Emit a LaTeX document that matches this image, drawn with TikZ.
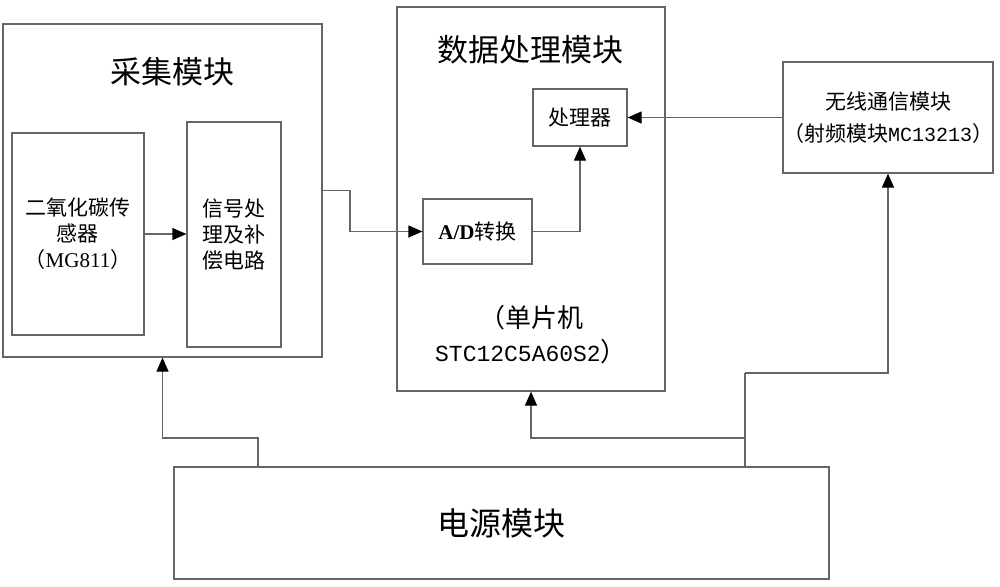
\documentclass[tikz,border=0pt]{standalone}
\usepackage{fontspec}
\setmainfont{Liberation Serif}
\setmonofont{Liberation Mono}
\newfontfamily\cjk{Noto Sans CJK SC}
\usetikzlibrary{arrows.meta}
\begin{document}
\begin{tikzpicture}[x=0.5pt,y=-0.5pt,
  box/.style={draw=black!60, line width=0.6pt, inner sep=0pt, align=center,
    font=\cjk\fontsize{10.5}{13}\selectfont},
  titletext/.style={inner sep=0pt, font=\cjk\fontsize{15.5}{18}\selectfont},
  conn/.style={draw=black!60, line width=0.6pt},
  arr/.style={conn, -{Triangle[length=7pt,width=6pt,color=black]}}]
\useasboundingbox (0,0) rectangle (1000,586);
% big boxes
\node[box, minimum width=159.5pt, minimum height=166.5pt] (collect) at (162.5,190.5) {};
\node[box, minimum width=134pt, minimum height=192pt] (data) at (531,199) {};
\node[box, minimum width=105pt, minimum height=55.5pt] (wireless) at (888,117.5)
  {无线通信模块\\[3pt]（射频模块{\ttfamily\fontsize{10}{13}\selectfont MC13213}）};
\node[box, minimum width=327.5pt, minimum height=56pt,
  font=\cjk\fontsize{16}{18}\selectfont] (power) at (501.5,523) {电源模块};
% titles
\node[titletext] (ctitle) at (172,72) {采集模块};
\node[titletext] (dtitle) at (530,50) {数据处理模块};
\node[inner sep=0pt, align=center, font=\cjk\fontsize{13}{17}\selectfont] (mcu) at (531,335)
  {（单片机\\{\ttfamily\fontsize{11.5}{17}\selectfont STC12C5A60S2}）};
% inner boxes
\node[box, minimum width=66pt, minimum height=101pt] (sensor) at (78,234)
  {二氧化碳传\\感器\\（{\rmfamily MG811}）};
\node[box, minimum width=47pt, minimum height=112.5pt] (signal) at (234,234.5)
  {信号处\\理及补\\偿电路};
\node[box, minimum width=47pt, minimum height=28.5pt] (proc) at (580,117.5) {处理器};
\node[box, minimum width=54.5pt, minimum height=32.5pt] (ad) at (477.5,231.5)
  {{\rmfamily\bfseries A/D}转换};
% coordinates
\coordinate (c1) at (350,190.5);
\coordinate (p1) at (258,467);
\coordinate (p2) at (745,467);
\coordinate (j1) at (258,438);
\coordinate (j2) at (745,438);
\coordinate (j3) at (745,373);
% connectors
\draw[arr] (sensor.east) -- (signal.west |- sensor.east);
\draw[arr] (collect.east) -- (c1) |- (ad.west);
\draw[arr] (ad.east) -| (proc.south);
\draw[arr] (wireless.west) -- (proc.east);
\draw[arr] (p1) -- (j1) -| (collect.south);
\draw[arr] (p2) -- (j2) -| (data.south);
\draw[conn] (j2) -- (j3);
\draw[arr] (j3) -| (wireless.south);
\end{tikzpicture}
\end{document}
